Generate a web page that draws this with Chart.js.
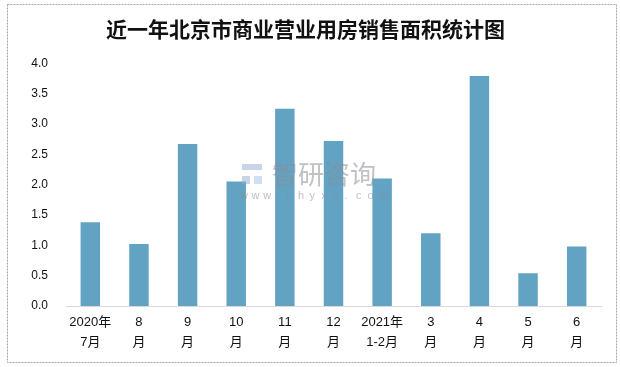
<!DOCTYPE html>
<html>
<head>
<meta charset="utf-8">
<script src="https://cdn.jsdelivr.net/npm/chart.js@4"></script>
<style>
  html, body { margin: 0; padding: 0; background: #fff; }
  #wrap { width: 620px; height: 367px; }
</style>
</head>
<body>
<div id="wrap"><canvas id="chart" width="620" height="367"></canvas></div>
<script>
const categories = [
    ['2020年', '7月'], ['8', '月'], ['9', '月'], ['10', '月'], ['11', '月'], ['12', '月'],
    ['2021年', '1-2月'], ['3', '月'], ['4', '月'], ['5', '月'], ['6', '月']
];
const salesArea = [1.38, 1.02, 2.67, 2.05, 3.25, 2.72, 2.10, 1.20, 3.79, 0.54, 0.98];
const yTicks = [0, 0.5, 1.0, 1.5, 2.0, 2.5, 3.0, 3.5, 4.0];

const fontFamily = '"Liberation Sans", "Noto Sans CJK SC", sans-serif';

// dashed outer frame + faint watermark
const framePlugin = {
    id: 'frame',
    beforeDraw(chart) {
        const ctx = chart.ctx;
        ctx.save();
        ctx.fillStyle = '#fff';
        ctx.fillRect(0, 0, chart.width, chart.height);
        ctx.strokeStyle = '#a6a6a6';
        ctx.setLineDash([2, 1]);
        ctx.lineWidth = 1;
        ctx.strokeRect(7.5, 4.5, 609, 358);
        ctx.restore();
    },
    afterDatasetsDraw(chart) {
        const ctx = chart.ctx;
        ctx.save();
        ctx.fillStyle = 'rgba(140,140,150,0.55)';
        ctx.textAlign = 'left';
        ctx.textBaseline = 'middle';
        ctx.font = '26px "Noto Sans CJK SC", sans-serif';
        ctx.fillText('智研咨询', 272, 174);
        ctx.font = '11px "Liberation Sans", sans-serif';
        const url = 'www.chyxx.com';
        for (let i = 0; i < url.length; i++) {
            ctx.fillText(url[i], 240 + i * 11.6, 196);
        }
        // little logo block
        ctx.fillStyle = 'rgba(150,170,210,0.5)';
        ctx.fillRect(242, 164, 20, 6);
        ctx.fillRect(242, 176, 8, 8);
        ctx.fillStyle = 'rgba(160,190,230,0.5)';
        ctx.fillRect(254, 176, 8, 8);
        ctx.restore();
    }
};

new Chart(document.getElementById('chart').getContext('2d'), {
    type: 'bar',
    data: {
        labels: categories,
        datasets: [{
            data: salesArea,
            backgroundColor: '#62a3c3',
            categoryPercentage: 0.4,
            barPercentage: 1.0
        }]
    },
    options: {
        responsive: false,
        animation: false,
        layout: { padding: { left: 10, right: 19, top: 6, bottom: 0 } },
        plugins: {
            legend: { display: false },
            tooltip: { enabled: false },
            title: {
                display: true,
                text: '近一年北京市商业营业用房销售面积统计图',
                color: '#111',
                font: { family: '"Noto Sans CJK SC", sans-serif', size: 21, weight: 'bold' },
                padding: { top: 10, bottom: 22 }
            }
        },
        scales: {
            x: {
                grid: { display: false, drawTicks: false },
                border: { display: true, color: '#d9d9d9', width: 1 },
                ticks: {
                    color: '#111',
                    font: { family: fontFamily, size: 13, lineHeight: 1.5 },
                    padding: 7,
                    maxRotation: 0,
                    autoSkip: false
                },
                afterFit(scale) { scale.height = 61; }
            },
            y: {
                min: 0,
                max: 4,
                grid: { display: false, drawTicks: false },
                border: { display: false },
                afterBuildTicks(scale) { scale.ticks = yTicks.map(v => ({ value: v })); },
                ticks: {
                    color: '#111',
                    font: { family: fontFamily, size: 12 },
                    padding: 18,
                    callback: v => Number(v).toFixed(1)
                },
                afterFit(scale) { scale.width = 56; }
            }
        }
    },
    plugins: [framePlugin]
});
</script>
</body>
</html>
